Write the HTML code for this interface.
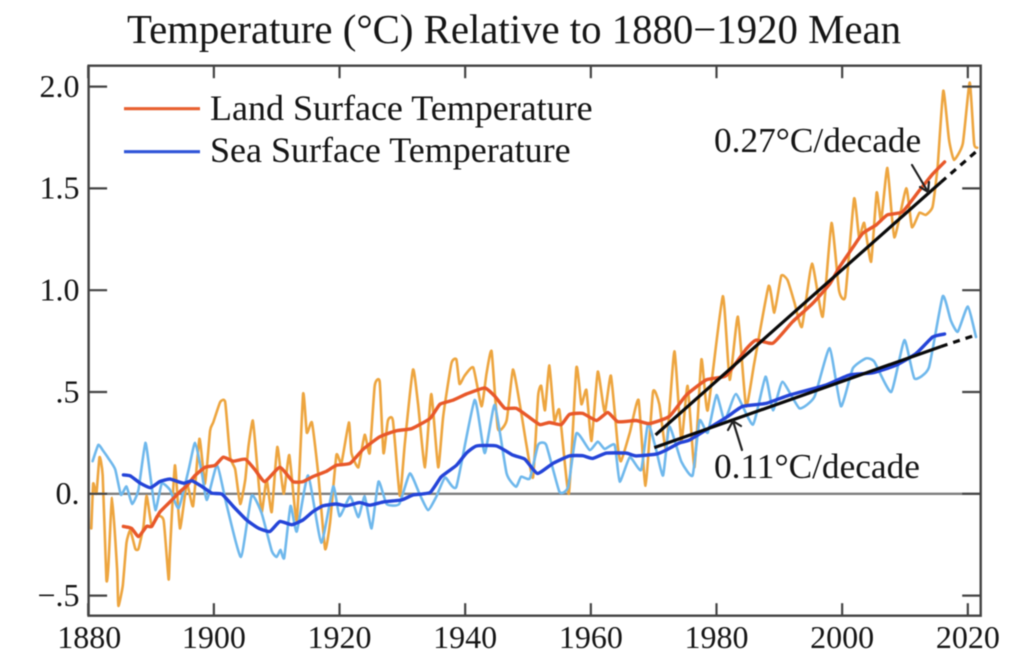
<!DOCTYPE html>
<html>
<head>
<meta charset="utf-8">
<title>Temperature Relative to 1880-1920 Mean</title>
<style>
html,body{margin:0;padding:0;background:#fff;width:1029px;height:664px;overflow:hidden}
svg{display:block;filter:blur(0.5px)}
text{font-family:"Liberation Serif",serif;fill:#151515}
</style>
</head>
<body>
<svg id="chart" width="1029" height="664" viewBox="0 0 1029 664" xmlns="http://www.w3.org/2000/svg">
<rect x="-5" y="-5" width="1040" height="675" fill="#fff"/>
<text x="127" y="43" font-size="40.8">Temperature (°C) Relative to 1880−1920 Mean</text>
<g id="marks"></g>
<g id="axes"></g>
<g>
<line x1="124" y1="108.7" x2="200" y2="108.7" stroke="#e8602f" stroke-width="3.2"/>
<text x="210" y="120" font-size="36">Land Surface Temperature</text>
<line x1="124" y1="151.7" x2="200" y2="151.7" stroke="#2f55d8" stroke-width="3.2"/>
<text x="210" y="162" font-size="36">Sea Surface Temperature</text>
</g>
<text x="714" y="152" font-size="35.3">0.27°C/decade</text>
<text x="714" y="478" font-size="35.3">0.11°C/decade</text>
</svg>
<script>
const xTicks = [1880, 1900, 1920, 1940, 1960, 1980, 2000, 2020];
const yTicks = [-0.5, 0, 0.5, 1, 1.5, 2];
const yTickLabels = ['−.5', '0.', '.5', '1.0', '1.5', '2.0'];

const landRawYears = [1880.5,1880.8,1881.3,1881.8,1882.3,1882.9,1883.2,1883.8,1884.6,1884.8,1885.5,1886.1,1886.7,1887.5,1888,1888.8,1889.3,1890.1,1890.9,1892,1892.8,1893,1893.8,1894.6,1895.7,1896.7,1897.7,1898.6,1899.4,1899.9,1901,1901.8,1902.6,1903.4,1904.2,1905,1905.5,1906.2,1906.8,1907.6,1908.4,1909.2,1910.1,1911.1,1912,1913.2,1914.2,1914.8,1915.6,1916.6,1917.7,1918.5,1919.5,1920.3,1921.5,1921.9,1923,1924,1924.8,1925.6,1926.4,1927,1927.7,1928.5,1929.6,1930.4,1931.7,1932.5,1933.6,1934.6,1935.7,1936.5,1937.8,1938.6,1939.1,1939.9,1941.3,1942.6,1943.4,1944.2,1945.2,1946.6,1947.6,1948.7,1949.7,1950.8,1951.6,1952.1,1952.7,1953.4,1954.2,1955,1956.5,1957.7,1958.5,1959.3,1960.1,1961.1,1962.2,1963.2,1964.3,1964.8,1966.2,1967.6,1968.7,1969.9,1970.9,1972,1973.3,1974.4,1975.4,1976.5,1977.6,1978.6,1981,1982.1,1983.4,1984.7,1986,1988.3,1989.2,1990.3,1991.3,1992.4,1993.6,1995.2,1996.9,1998.3,1999.5,2000.5,2001.9,2002.7,2003.5,2004.6,2005.5,2006.2,2007.2,2008.3,2010.2,2011.1,2012.3,2013.3,2014.4,2015.2,2016.1,2017,2017.8,2019.2,2020.3,2021,2021.5];
const landRawValues = [-0.17,0.05,0,0.18,0.09,-0.42,-0.36,-0.02,-0.37,-0.55,-0.45,-0.24,-0.18,-0.27,-0.27,-0.16,-0.01,-0.16,-0.11,-0.13,-0.42,-0.29,0.14,-0.17,0.05,-0.06,0.27,0.05,0.31,0.35,0.45,0.45,0.18,0.12,-0.05,0.07,0.23,0.36,0.17,-0.09,0.07,-0.09,0.23,0,0.19,-0.13,0.49,0.3,0.35,0.1,-0.27,-0.14,0.19,0.15,0.35,0.2,0.13,0.29,0.2,0.53,0.55,0.2,0.36,0.36,-0.01,0.25,0.61,0.44,0.13,0.49,0.13,0.38,0.64,0.66,0.54,0.58,0.62,0.43,0.59,0.7,0.32,0.36,0.61,0.44,0.25,0.08,0.48,0.53,0.41,0.63,0.36,0.41,0,0.62,0.44,0.51,0.26,0.6,0.4,0.58,0.23,0.16,0.3,0.46,0.04,0.5,0.44,0.22,0.7,0.26,0.53,0.13,0.66,0.41,0.97,0.56,0.87,0.43,0.64,1.02,0.89,1.07,1.05,0.94,0.82,1.13,0.87,1.33,1,0.97,1.45,1.26,1.33,1.14,1.48,1.34,1.6,1.26,1.5,1.31,1.38,1.37,1.41,1.61,1.98,1.74,1.64,1.72,2.02,1.72,1.7];

const landSmoothYears = [1885.6,1886.9,1888,1889.3,1890.1,1891.4,1893,1894.6,1895.7,1897,1898.6,1900.2,1901.5,1903.1,1905,1906.5,1908.1,1910.5,1912.6,1914.2,1915.8,1917.9,1919.5,1921.7,1923.8,1926.4,1929.1,1931.5,1934.4,1936,1938.1,1940.2,1943.1,1944.7,1946.3,1948.1,1950,1951.9,1953.4,1955.3,1956.6,1958.7,1960.9,1962.7,1964.3,1967.2,1969.3,1972.5,1975.2,1978.4,1981.5,1984.7,1986.3,1989,1992.1,1995.3,1998,1999.6,2001.7,2003.3,2005.4,2007.2,2009.6,2012.3,2014.4,2016.3];
const landSmoothValues = [-0.16,-0.17,-0.21,-0.16,-0.16,-0.09,-0.04,0.01,0.04,0.09,0.13,0.14,0.18,0.16,0.17,0.12,0.06,0.13,0.06,0.06,0.085,0.11,0.14,0.15,0.22,0.28,0.31,0.32,0.37,0.44,0.46,0.49,0.52,0.48,0.42,0.42,0.38,0.34,0.35,0.34,0.39,0.395,0.36,0.4,0.354,0.36,0.345,0.38,0.485,0.56,0.58,0.71,0.755,0.74,0.845,0.935,1.03,1.115,1.21,1.28,1.32,1.37,1.385,1.49,1.57,1.63];

const seaRawYears = [1880.7,1881.6,1882.4,1883.2,1884.3,1885.2,1886.1,1887,1888,1889.1,1889.9,1890.7,1891.7,1893,1894.4,1896,1897,1898.1,1898.9,1900.5,1902,1904.3,1906,1907.6,1909.2,1910,1910.6,1911.2,1912.2,1913.2,1915,1917.1,1919,1920,1921.7,1923,1924,1925.1,1926.2,1927.5,1929.5,1931.2,1932.8,1934.1,1935.4,1936.8,1938.6,1941.5,1943.1,1944.7,1946.6,1948.1,1948.9,1950.3,1951.6,1952.9,1955,1956.4,1957.7,1959.8,1961.1,1962.2,1963.8,1964.6,1966.2,1968,1969.1,1970.4,1971.5,1972.5,1974.4,1976.2,1977.3,1978.6,1980,1981.3,1983.1,1985.8,1987.8,1989,1990.5,1993.2,1995.6,1998,1999.8,2001.7,2003.8,2005.1,2007.8,2009.9,2011.5,2013.8,2016,2017.3,2018.4,2020,2021.3];
const seaRawValues = [0.16,0.24,0.21,0.175,0.12,-0.005,0.036,-0.05,0.02,0.25,0.085,-0.08,0.05,0.02,-0.07,0.12,0.25,0.1,-0.03,0.14,-0.05,-0.31,-0.01,-0.095,-0.28,-0.31,-0.275,-0.315,-0.06,-0.185,0.09,-0.24,0.036,-0.11,-0.013,-0.115,-0.013,-0.17,0.06,-0.05,-0.05,0.1,-0.005,-0.08,-0.014,0.08,0.035,0.46,0.2,0.436,0.1,0.035,0.084,0.076,0.24,0.24,0.01,0.035,0.297,0.215,0.256,0.22,0.24,0.06,0.18,0.117,0.346,0.215,0.09,0.33,0.158,0.09,0.36,0.3,0.485,0.36,0.49,0.34,0.575,0.41,0.55,0.42,0.477,0.715,0.43,0.616,0.665,0.65,0.5,0.755,0.567,0.62,0.97,0.85,0.796,0.92,0.77];

const seaSmoothYears = [1885.6,1886.7,1888.3,1889.9,1891.4,1893,1895.2,1896.5,1898.1,1899.7,1901.3,1903.1,1905.2,1907.1,1908.9,1910.5,1912.4,1914.2,1915.8,1917.4,1919.5,1921.1,1923.2,1924.8,1927,1929.9,1931.7,1934.4,1936.2,1938.6,1940.2,1941.8,1945,1947.6,1949.5,1951.5,1954,1956.6,1958.7,1960.3,1962.5,1965.6,1967.2,1970.4,1972,1974.1,1975.7,1979.2,1981.8,1984.2,1987.9,1991.6,1997.4,2001.1,2004.9,2008.6,2011.8,2014.4,2016.3];
const seaSmoothValues = [0.093,0.088,0.052,0.03,0.06,0.072,0.052,0.064,0.036,0.003,-0.002,-0.062,-0.128,-0.169,-0.185,-0.136,-0.152,-0.128,-0.087,-0.059,-0.05,-0.059,-0.043,-0.056,-0.04,-0.03,-0.006,0.006,0.084,0.14,0.2,0.235,0.235,0.19,0.17,0.1,0.15,0.186,0.187,0.174,0.2,0.2,0.186,0.195,0.215,0.25,0.264,0.33,0.38,0.43,0.444,0.485,0.534,0.583,0.595,0.632,0.69,0.77,0.785];

const landTrendYears = [1970.3, 2015.7];
const landTrendValues = [0.289, 1.53];
const landTrendExtYears = [2015.7, 2021.3];
const landTrendExtValues = [1.53, 1.68];
const seaTrendYears = [1970.1, 2015.7];
const seaTrendValues = [0.227, 0.723];
const seaTrendExtYears = [2015.7, 2020.8];
const seaTrendExtValues = [0.723, 0.775];

const SVGNS = 'http://www.w3.org/2000/svg';
const plotLeft = 88.6, plotRight = 980.7, plotTop = 65.7, plotBottom = 615.7;
function xScale(year) { return 88.2 + (year - 1880) * 6.283; }
function yScale(value) { return 493.8 - value * 203.6; }

const marks = document.getElementById('marks');
const axes = document.getElementById('axes');

function smoothPath(xs, ys) {
  const p = xs.map(function (x, i) { return [xScale(x), yScale(ys[i])]; });
  let d = 'M' + p[0][0].toFixed(1) + ' ' + p[0][1].toFixed(1);
  for (let i = 0; i < p.length - 1; i++) {
    const a = p[Math.max(0, i - 1)], b = p[i], c = p[i + 1], e = p[Math.min(p.length - 1, i + 2)];
    const k = 0.08;
    d += 'C' + (b[0] + (c[0] - a[0]) * k).toFixed(1) + ' ' + (b[1] + (c[1] - a[1]) * k).toFixed(1) + ' ' +
      (c[0] - (e[0] - b[0]) * k).toFixed(1) + ' ' + (c[1] - (e[1] - b[1]) * k).toFixed(1) + ' ' +
      c[0].toFixed(1) + ' ' + c[1].toFixed(1);
  }
  return d;
}

function addPath(d, stroke, width) {
  const el = document.createElementNS(SVGNS, 'path');
  el.setAttribute('d', d);
  el.setAttribute('fill', 'none');
  el.setAttribute('stroke', stroke);
  el.setAttribute('stroke-width', width);
  el.setAttribute('stroke-linejoin', 'round');
  el.setAttribute('stroke-linecap', 'round');
  marks.appendChild(el);
  return el;
}

function addLine(parent, x1, y1, x2, y2, stroke, width) {
  const el = document.createElementNS(SVGNS, 'line');
  el.setAttribute('x1', x1);
  el.setAttribute('y1', y1);
  el.setAttribute('x2', x2);
  el.setAttribute('y2', y2);
  el.setAttribute('stroke', stroke);
  el.setAttribute('stroke-width', width);
  parent.appendChild(el);
  return el;
}

const zeroLine = addLine(marks, plotLeft, yScale(0), plotRight, yScale(0), '#7d7d7d', 2.4);



const landRaw = addPath(smoothPath(landRawYears, landRawValues), '#eda53f', 2.6);



const seaRaw = addPath(smoothPath(seaRawYears, seaRawValues), '#6fb8ec', 2.6);



const landSmooth = addPath(smoothPath(landSmoothYears, landSmoothValues), '#e8582a', 3.4);



const seaSmooth = addPath(smoothPath(seaSmoothYears, seaSmoothValues), '#2444d8', 3.4);



const landTrend = addLine(marks, xScale(landTrendYears[0]), yScale(landTrendValues[0]), xScale(landTrendYears[1]), yScale(landTrendValues[1]), '#0a0a0a', 3.2);



const landExt = addLine(marks, xScale(landTrendExtYears[0]), yScale(landTrendExtValues[0]), xScale(landTrendExtYears[1]), yScale(landTrendExtValues[1]), '#0a0a0a', 3.2);
landExt.setAttribute('stroke-dasharray', '7 6');



const seaTrend = addLine(marks, xScale(seaTrendYears[0]), yScale(seaTrendValues[0]), xScale(seaTrendYears[1]), yScale(seaTrendValues[1]), '#0a0a0a', 3.2);



const seaExt = addLine(marks, xScale(seaTrendExtYears[0]), yScale(seaTrendExtValues[0]), xScale(seaTrendExtYears[1]), yScale(seaTrendExtValues[1]), '#0a0a0a', 3.2);
seaExt.setAttribute('stroke-dasharray', '7 6');



const landArrow = addPath('M912 165L928 192M920 187L928 192L929 182', '#222', 2.2);



const seaArrow = addPath('M742 450L733 421M728 430L733 421L741 426', '#222', 2.2);



const frame = document.createElementNS(SVGNS, 'rect');
frame.setAttribute('x', plotLeft);
frame.setAttribute('y', plotTop);
frame.setAttribute('width', plotRight - plotLeft);
frame.setAttribute('height', plotBottom - plotTop);
frame.setAttribute('fill', 'none');
frame.setAttribute('stroke', '#444');
frame.setAttribute('stroke-width', 2.4);


axes.appendChild(frame);

xTicks.forEach(function (year) {
  const x = xScale(year);
  const bottomTick = addLine(axes, x, plotBottom, x, plotBottom - 12.5, '#444', 2.2);
  
  
  const topTick = addLine(axes, x, plotTop, x, plotTop + 12.5, '#444', 2.2);
  
  
  const label = document.createElementNS(SVGNS, 'text');
  label.setAttribute('x', x + (year === 1880 ? 1 : 0));
  label.setAttribute('y', 648);
  label.setAttribute('font-size', 32);
  label.setAttribute('text-anchor', 'middle');
  label.textContent = String(year);
  
  
  axes.appendChild(label);
});

yTicks.forEach(function (value, i) {
  const y = yScale(value);
  const leftTick = addLine(axes, plotLeft, y, plotLeft + 18.5, y, '#444', 2.2);
  
  
  const rightTick = addLine(axes, plotRight, y, plotRight - 18.5, y, '#444', 2.2);
  
  
  const label = document.createElementNS(SVGNS, 'text');
  label.setAttribute('x', 79.5);
  label.setAttribute('y', y + 10.3);
  label.setAttribute('font-size', 32);
  label.setAttribute('text-anchor', 'end');
  label.textContent = yTickLabels[i];
  
  
  axes.appendChild(label);
});
</script>
</body>
</html>
